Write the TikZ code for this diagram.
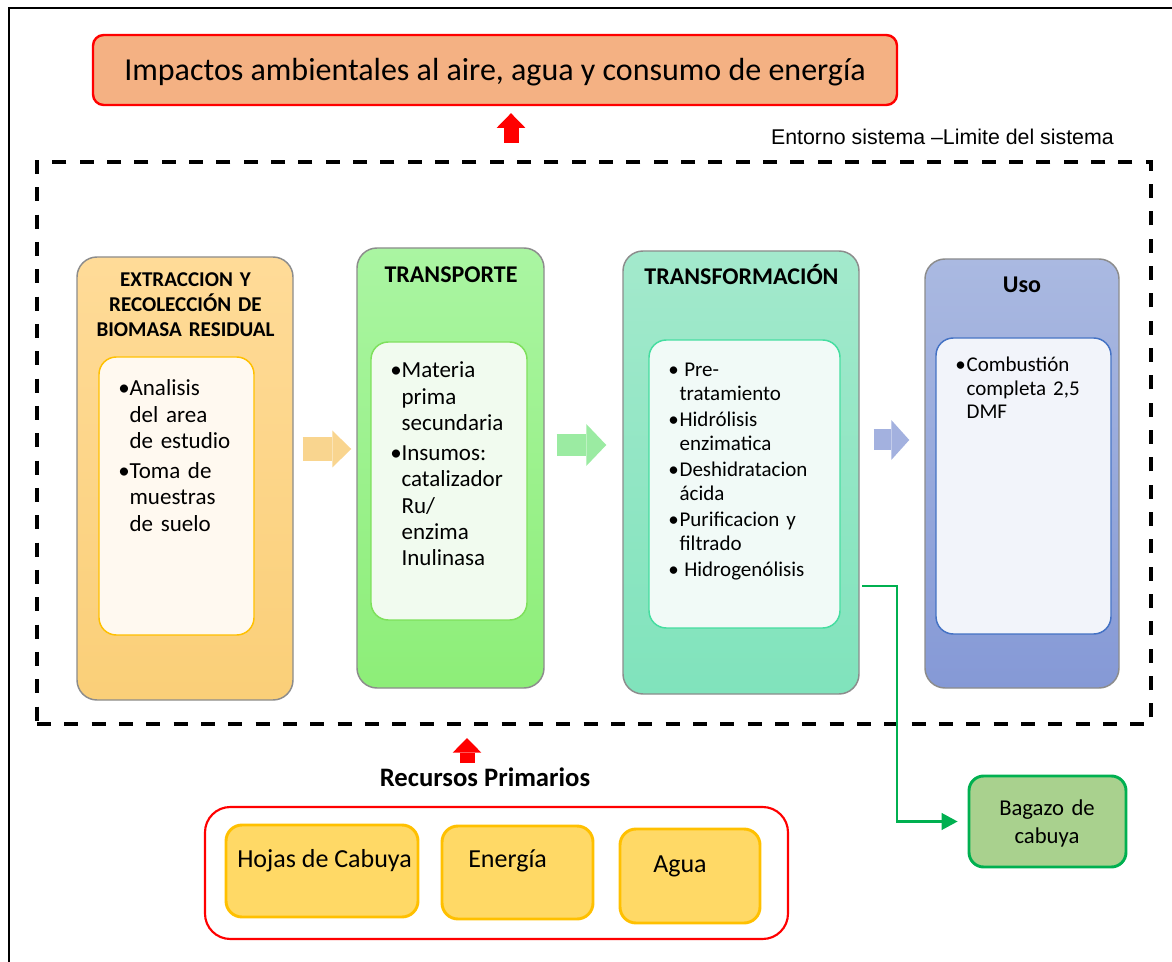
\documentclass[tikz,border=0pt]{standalone}
\usepackage{fontspec}
\setmainfont{Carlito}
\newfontfamily\arialfont{Liberation Sans}
\usetikzlibrary{calc}
\usetikzlibrary{fit}
\usetikzlibrary{arrows.meta}

\definecolor{impacto}{HTML}{F4B183}
\definecolor{rojo}{HTML}{FF0000}
\definecolor{oroA}{HTML}{FFDB98}
\definecolor{oroB}{HTML}{FACF78}
\definecolor{oroI}{HTML}{FFF9F0}
\definecolor{verA}{HTML}{AAF5A2}
\definecolor{verB}{HTML}{8DEE78}
\definecolor{verI}{HTML}{F1FBEF}
\definecolor{verL}{HTML}{7EE05C}
\definecolor{turA}{HTML}{A3E9CC}
\definecolor{turB}{HTML}{80E3BC}
\definecolor{turI}{HTML}{F1FAF7}
\definecolor{turL}{HTML}{45DDA0}
\definecolor{azuA}{HTML}{AAB9E1}
\definecolor{azuB}{HTML}{8599D6}
\definecolor{azuI}{HTML}{F2F4FA}
\definecolor{azuL}{HTML}{4472C4}
\definecolor{flechaA}{HTML}{F9D58F}
\definecolor{flechaB}{HTML}{9BEBA2}
\definecolor{flechaC}{HTML}{A3B1DF}
\definecolor{amarillo}{HTML}{FFD966}
\definecolor{ambar}{HTML}{FFC000}
\definecolor{bagazo}{HTML}{A9D18E}
\definecolor{verde}{HTML}{00B050}

% bullet item: one paragraph with hanging indent, lines broken by \newline
\newcommand{\bitem}[1]{\hangindent=8.5pt\hangafter=1\noindent\makebox[8.5pt][l]{\textbullet}#1\par}
\newcommand{\bsep}[1][2.8pt]{\vspace{#1}}
\newcommand{\listfont}{\fontsize{17.25}{19.7}\selectfont}
\newcommand{\smallfont}{\fontsize{15.75}{17.5}\selectfont}

\begin{document}
\begin{tikzpicture}[x=0.75pt,y=-0.75pt]
  \tikzset{
    etapa/.style={draw=black!45, line width=1.1pt, rounded corners=15pt, inner sep=0pt},
    interior/.style={line width=1.1pt, rounded corners=13pt, inner sep=0pt},
    lista/.style={anchor=base west, inner sep=0pt, text width=140pt, align=left},
    titulo/.style={anchor=base, inner sep=0pt, align=center, text width=160pt,
      font=\bfseries\fontsize{18}{21}\selectfont},
    recurso/.style={draw=ambar, fill=amarillo, line width=2.2pt, rounded corners=12pt, inner sep=0pt},
    rtexto/.style={anchor=base west, inner sep=0pt, font=\fontsize{19.5}{23}\selectfont},
    rojoarr/.style={rojo, line width=11.25pt, -{Triangle[length=11pt,width=21.5pt,line width=0pt]}},
  }
  \useasboundingbox (0,0) rectangle (1172,962);

  % defines
  \pgfmathsetmacro\FlowAY{449} % flecha 1 Y
  \pgfmathsetmacro\FlowBY{445} % flecha 2 Y
  \pgfmathsetmacro\FlowCY{440} % flecha 3 Y
  \coordinate (F1) at (0,\FlowAY);
  \coordinate (F2) at (0,\FlowBY);
  \coordinate (F3) at (0,\FlowCY);

  % marco exterior
  \draw[line width=2.2pt] (9,962) -- (9,8) -- (1172,8);

  % impactos y limite del sistema
  \node[fit={(93,35) (897,105)}, draw=rojo, fill=impacto, line width=1.8pt, rounded corners=8pt,
    inner sep=0pt] (IMP) {};
  \node[anchor=base, inner sep=0pt, font=\fontsize{24}{28}\selectfont] (IMPt) at (495,81)
    {Impactos ambientales al aire, agua y consumo de energía};
  \node[anchor=base east, inner sep=0pt, font=\arialfont\fontsize{16}{19}\selectfont] (ENT) at (1114,145)
    {Entorno sistema –Limite del sistema};
  \node[fit={(37,162) (1151,724)}, draw, line width=3pt, dash pattern=on 10.5pt off 10pt, inner sep=0pt] (SYS) {};

  % etapas
  \node[etapa, fit={(77,257) (293,700)}, top color=oroA, bottom color=oroB] (EXT) {};
  \node[interior, fit={(99,357) (254,635)}, draw=ambar, fill=oroI] (EXTi) {};
  \node[etapa, fit={(357,248) (544,688)}, top color=verA, bottom color=verB] (TRA) {};
  \node[interior, fit={(371,342) (527,620)}, draw=verL, fill=verI] (TRAi) {};
  \node[etapa, fit={(623,251) (859,694)}, top color=turA, bottom color=turB] (TRF) {};
  \node[interior, fit={(649,340) (840,628)}, draw=turL, fill=turI] (TRFi) {};
  \node[etapa, fit={(925,259) (1119,688)}, top color=azuA, bottom color=azuB] (USO) {};
  \node[interior, fit={(936,338) (1111,634)}, draw=azuL, fill=azuI] (USOi) {};

  % titulos
  \node[titulo, font=\bfseries\fontsize{15.8}{18.75}\selectfont] (EXTt) at (185.5,287)
    {EXTRACCION Y\\RECOLECCIÓN DE\\BIOMASA RESIDUAL};
  \node[titulo] (TRAt) at (451,283) {TRANSPORTE};
  \node[titulo] (TRFt) at (741.5,285) {TRANSFORMACIÓN};
  \node[titulo] (USOt) at (1022,293) {Uso};

  % listas
  \node[lista, font=\listfont] (EXTl) at (118,396)
    {\bitem{Analisis\newline del area\newline de estudio}\bsep
     \bitem{Toma de\newline muestras\newline de suelo}};
  \node[lista, font=\listfont] (TRAl) at (390,378)
    {\bitem{Materia\newline prima\newline secundaria}\bsep
     \bitem{Insumos:\newline catalizador\newline Ru/\newline enzima\newline Inulinasa}};
  \node[lista, font=\smallfont] (TRFl) at (668,377)
    {\bitem{\hspace{3.5pt}Pre-\newline tratamiento}\bsep[2.5pt]
     \bitem{Hidrólisis\newline enzimatica}\bsep[2.5pt]
     \bitem{Deshidratacion\newline ácida}\bsep[2.5pt]
     \bitem{Purificacion y\newline filtrado}\bsep[2.5pt]
     \bitem{\hspace{3.5pt}Hidrogenólisis}};
  \node[lista, font=\smallfont] (USOl) at (955,372)
    {\bitem{Combustión\newline completa 2,5\newline DMF}};

  % flechas entre etapas
  \draw[flechaA, line width=18pt, -{Triangle[length=14.25pt,width=27.75pt,line width=0pt]},
    shorten <=6.75pt, shorten >=3.75pt] (EXT.east |- F1) -- (TRA.west |- F1);
  \draw[flechaB, line width=16.5pt, -{Triangle[length=15pt,width=31.5pt,line width=0pt]},
    shorten <=9pt, shorten >=12pt] (TRA.east |- F2) -- (TRF.west |- F2);
  \draw[flechaC, line width=15.75pt, -{Triangle[length=13.5pt,width=30pt,line width=0pt]},
    shorten <=10.5pt, shorten >=11.25pt] (TRF.east |- F3) -- (USO.west |- F3);

  % flechas rojas
  \coordinate (RA) at (511,143);
  \draw[rojoarr, shorten >=5.25pt] (RA) -- (RA |- IMP.south);
  \coordinate (RB) at (467,763);
  \draw[rojoarr, shorten >=9pt] (RB) -- (RB |- SYS.south);

  % recursos primarios
  \node[anchor=base, inner sep=0pt, font=\bfseries\fontsize{20}{24}\selectfont] (REC) at (485,786) {Recursos Primarios};
  \node[fit={(205,807) (788,939)}, draw=rojo, line width=1.6pt, rounded corners=19pt, inner sep=0pt] (PRI) {};
  \node[recurso, fit={(226,825) (418,917)}] (HOJ) {};
  \node[recurso, fit={(442,826) (593,919)}] (ENE) {};
  \node[recurso, fit={(620,829) (760,923)}] (AGU) {};
  \node[rtexto] (HOJt) at (237,867) {Hojas de Cabuya};
  \node[rtexto] (ENEt) at (468,867) {Energía};
  \node[rtexto] (AGUt) at (653,872) {Agua};

  % residuo
  \node[fit={(969,776) (1126,867)}, draw=verde, fill=bagazo, line width=2.2pt, rounded corners=11pt,
    inner sep=0pt] (BAG) {};
  \node[anchor=base, inner sep=0pt, align=center, text width=120pt, font=\fontsize{17}{21}\selectfont] (BAGt)
    at (1047,815) {Bagazo de\\cabuya};
  \coordinate (RS) at (862,586);
  \draw[verde, line width=1.9pt, -{Triangle[length=12pt,width=13pt,line width=0pt]}, shorten >=7.5pt]
    (RS) -- ++(35,0) |- (BAG.west);
\end{tikzpicture}
\end{document}
